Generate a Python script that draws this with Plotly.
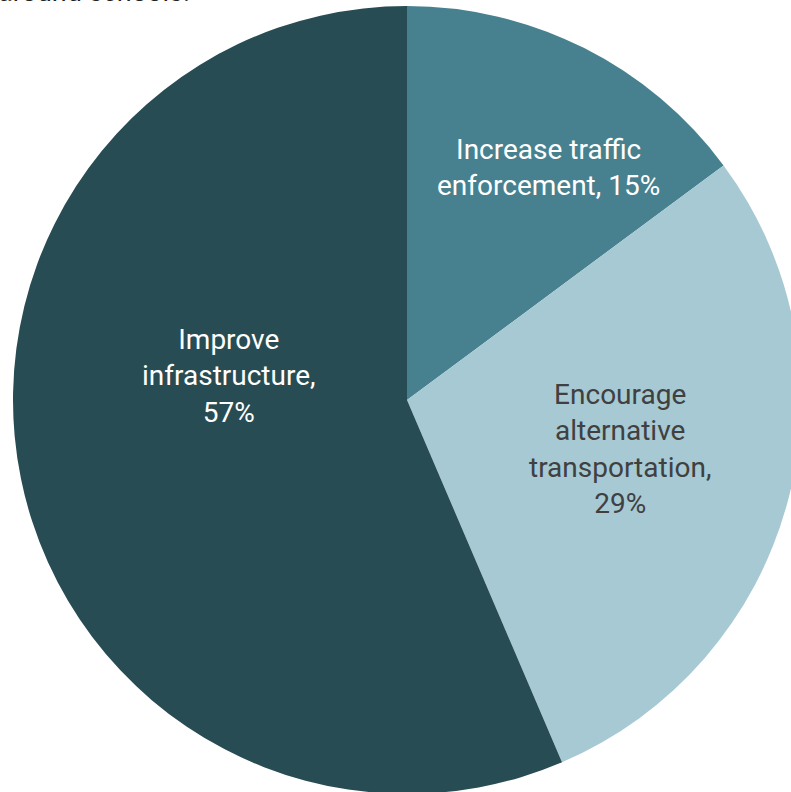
import plotly.graph_objects as go

# Survey responses: preferred way to make streets around schools safer
labels = ["Increase traffic<br>enforcement", "Encourage<br>alternative<br>transportation", "Improve<br>infrastructure"]
values = [15, 29, 57]
label_breaks = [" ", "<br>", "<br>"]  # how the percentage follows each label
colors = ["#47818f", "#a6c9d3", "#284c53"]
text_colors = ["#ffffff", "#404040", "#ffffff"]
# label anchor inside each slice, in pie radii from the centre (right, up)
label_offsets = [(0.358, 0.589), (0.541, -0.124), (-0.452, 0.060)]

W, H = 815, 800
cx, cy, r = 407, 400, 394

slice_text = [f"{lab},{br}{v}%" for lab, br, v in zip(labels, label_breaks, values)]

fig = go.Figure(
    go.Pie(
        labels=labels,
        values=values,
        text=slice_text,
        sort=False,
        direction="clockwise",
        rotation=0,
        marker=dict(colors=colors, line=dict(width=0)),
        textinfo="none",
        hoverinfo="label+value",
        showlegend=False,
        domain=dict(
            x=[(cx - r) / W, (cx + r) / W],
            y=[(H - (cy + r)) / H, (H - (cy - r)) / H],
        ),
    )
)

for txt, col, (ox, oy) in zip(slice_text, text_colors, label_offsets):
    fig.add_annotation(
        text=txt,
        xref="paper", yref="paper",
        x=(cx + ox * r) / W, y=1 - (cy - oy * r) / H,
        xanchor="center", yanchor="middle",
        showarrow=False,
        font=dict(family="Roboto", size=28, color=col),
    )

fig.add_annotation(
    text="around schools.",
    xref="paper", yref="paper",
    x=-4 / W, y=1 - 10 / H,
    xanchor="left", yanchor="bottom",
    showarrow=False,
    font=dict(family="Roboto", size=27, color="#222222"),
)

fig.update_layout(
    width=W, height=H,
    margin=dict(l=0, r=0, t=0, b=0),
    paper_bgcolor="white",
    plot_bgcolor="white",
)

fig.write_html(
    "out.html",
    post_script="document.documentElement.style.overflow='hidden';document.body.style.overflow='hidden';document.body.style.margin='0';",
)
